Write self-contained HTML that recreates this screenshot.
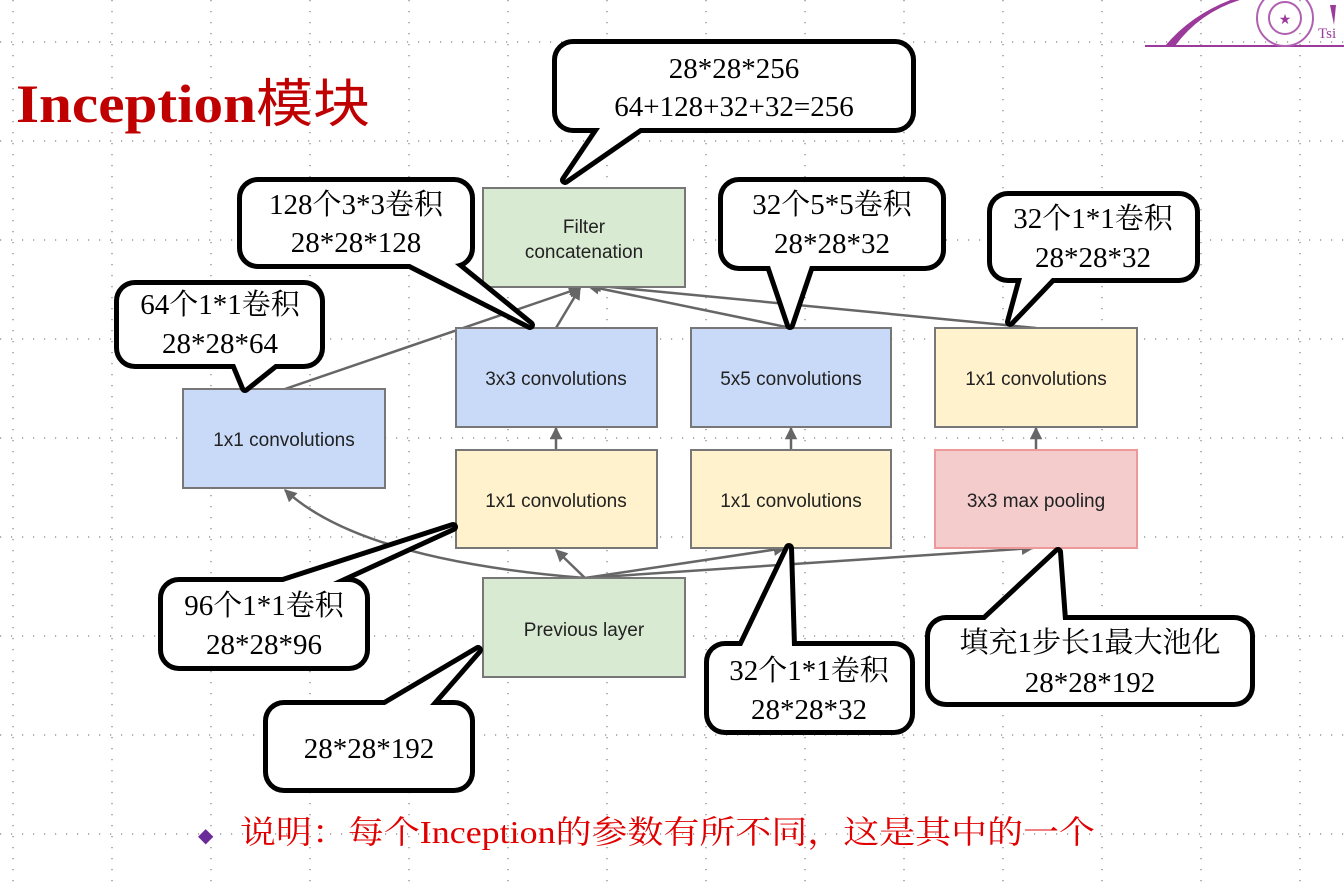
<!DOCTYPE html>
<html><head><meta charset="utf-8"><style>
html,body{margin:0;padding:0;background:#fff;}
svg{display:block;}
.box{stroke:#777;stroke-width:2;}
.bt{font-family:"Liberation Sans","DejaVu Sans",sans-serif;font-size:19px;fill:#222;text-anchor:middle;}
.ct{font-family:"Liberation Serif","Noto Serif CJK SC",serif;font-size:29px;fill:#000;text-anchor:middle;}
.ar{stroke:#666;stroke-width:2.5;fill:none;}
</style></head><body>
<svg width="1344" height="890" viewBox="0 0 1344 890" xmlns="http://www.w3.org/2000/svg">
<defs>
<marker id="ah" viewBox="0 0 10 10" refX="9" refY="5" markerWidth="5" markerHeight="5" orient="auto"><path d="M0,0 L10,5 L0,10 z" fill="#666"/></marker>
</defs>
<g stroke="#666" stroke-width="1" stroke-dasharray="1.2 9.8">
<line x1="13" y1="0" x2="13" y2="890"/><line x1="112" y1="0" x2="112" y2="890"/><line x1="211" y1="0" x2="211" y2="890"/><line x1="310" y1="0" x2="310" y2="890"/><line x1="409" y1="0" x2="409" y2="890"/><line x1="508" y1="0" x2="508" y2="890"/><line x1="607" y1="0" x2="607" y2="890"/><line x1="706" y1="0" x2="706" y2="890"/><line x1="805" y1="0" x2="805" y2="890"/><line x1="904" y1="0" x2="904" y2="890"/><line x1="1003" y1="0" x2="1003" y2="890"/><line x1="1102" y1="0" x2="1102" y2="890"/><line x1="1201" y1="0" x2="1201" y2="890"/><line x1="1300" y1="0" x2="1300" y2="890"/>
<line x1="0" y1="42" x2="1344" y2="42"/><line x1="0" y1="141" x2="1344" y2="141"/><line x1="0" y1="240" x2="1344" y2="240"/><line x1="0" y1="339" x2="1344" y2="339"/><line x1="0" y1="438" x2="1344" y2="438"/><line x1="0" y1="537" x2="1344" y2="537"/><line x1="0" y1="636" x2="1344" y2="636"/><line x1="0" y1="735" x2="1344" y2="735"/><line x1="0" y1="834" x2="1344" y2="834"/>
</g>
<!-- logo -->
<line x1="1145" y1="46" x2="1344" y2="46" stroke="#9b3a9b" stroke-width="2"/>
<path d="M1175,46 Q1205,5 1260,-5 L1245,-5 Q1195,10 1165,46 z" fill="#9b3a9b"/>
<circle cx="1285" cy="18" r="28" fill="none" stroke="#b060b0" stroke-width="2"/>
<circle cx="1285" cy="18" r="16" fill="none" stroke="#b060b0" stroke-width="2"/>
<text x="1285" y="24" font-size="14" fill="#9b3a9b" text-anchor="middle">★</text>
<text x="1318" y="38" font-family="Liberation Serif,serif" font-size="15" fill="#9b3a9b">Tsi</text>
<path d="M1330,5 L1336,5 L1334,25 Z" fill="#9b3a9b"/>
<text x="16" y="122" font-family="Liberation Serif,'Noto Serif CJK SC',serif" font-size="54" font-weight="bold" fill="#c00000" textLength="354" lengthAdjust="spacingAndGlyphs">Inception<tspan font-family="'Noto Sans CJK SC',sans-serif" font-weight="normal" font-size="52">模块</tspan></text>
<!-- arrows -->
<line class="ar" x1="285" y1="389" x2="580" y2="288" marker-end="url(#ah)"/>
<line class="ar" x1="556" y1="328" x2="580" y2="288" marker-end="url(#ah)"/>
<line class="ar" x1="791" y1="328" x2="588" y2="286" marker-end="url(#ah)"/>
<line class="ar" x1="1036" y1="328" x2="590" y2="285" marker-end="url(#ah)"/>
<line class="ar" x1="556" y1="450" x2="556" y2="428" marker-end="url(#ah)"/>
<line class="ar" x1="791" y1="450" x2="791" y2="428" marker-end="url(#ah)"/>
<line class="ar" x1="1036" y1="450" x2="1036" y2="428" marker-end="url(#ah)"/>
<path class="ar" d="M585,578 Q360,560 285,490" marker-end="url(#ah)"/>
<line class="ar" x1="585" y1="578" x2="556" y2="550" marker-end="url(#ah)"/>
<line class="ar" x1="585" y1="578" x2="785" y2="548" marker-end="url(#ah)"/>
<line class="ar" x1="585" y1="578" x2="1033" y2="548" marker-end="url(#ah)"/>
<!-- boxes -->
<rect class="box" x="483" y="188" width="202" height="99" fill="#d9ead3"/>
<text class="bt" x="584" y="233">Filter</text><text class="bt" x="584" y="258">concatenation</text>
<rect class="box" x="456" y="328" width="201" height="99" fill="#c9daf8"/><text class="bt" x="556" y="385">3x3 convolutions</text>
<rect class="box" x="691" y="328" width="200" height="99" fill="#c9daf8"/><text class="bt" x="791" y="385">5x5 convolutions</text>
<rect class="box" x="935" y="328" width="202" height="99" fill="#fff2cc"/><text class="bt" x="1036" y="385">1x1 convolutions</text>
<rect class="box" x="183" y="389" width="202" height="99" fill="#c9daf8"/><text class="bt" x="284" y="446">1x1 convolutions</text>
<rect class="box" x="456" y="450" width="201" height="98" fill="#fff2cc"/><text class="bt" x="556" y="507">1x1 convolutions</text>
<rect class="box" x="691" y="450" width="200" height="98" fill="#fff2cc"/><text class="bt" x="791" y="507">1x1 convolutions</text>
<rect x="935" y="450" width="202" height="98" fill="#f4cccc" stroke="#e99" stroke-width="2"/><text class="bt" x="1036" y="507">3x3 max pooling</text>
<rect class="box" x="483" y="578" width="202" height="99" fill="#d9ead3"/><text class="bt" x="584" y="636">Previous layer</text>
<!-- callouts: stroke layer -->
<g stroke="#000" stroke-width="10" stroke-linejoin="round" fill="#000">
<rect x="557" y="44" width="354" height="84" rx="16"/><polygon points="600,128 640,128 565,180"/>
<rect x="242" y="182" width="228" height="82" rx="16"/><polygon points="410,264 455,264 530,325"/>
<rect x="723" y="182" width="218" height="84" rx="16"/><polygon points="770,266 810,266 790,325"/>
<rect x="992" y="196" width="203" height="82" rx="16"/><polygon points="1022,278 1052,278 1010,322"/>
<rect x="119" y="285" width="201" height="79" rx="16"/><polygon points="235,364 275,364 245,388"/>
<rect x="163" y="582" width="202" height="84" rx="16"/><polygon points="283,582 333,582 453,527"/>
<rect x="709" y="646" width="201" height="84" rx="16"/><polygon points="742,646 792,646 789,548"/>
<rect x="930" y="620" width="320" height="82" rx="16"/><polygon points="985,620 1063,620 1058,552"/>
<rect x="268" y="705" width="202" height="83" rx="16"/><polygon points="385,705 430,705 478,650"/>
</g>
<g fill="#fff" stroke="none" stroke-linejoin="round">
<rect x="557" y="44" width="354" height="84" rx="16"/><polygon points="600,128 640,128 565,180"/>
<rect x="242" y="182" width="228" height="82" rx="16"/><polygon points="410,264 455,264 530,325"/>
<rect x="723" y="182" width="218" height="84" rx="16"/><polygon points="770,266 810,266 790,325"/>
<rect x="992" y="196" width="203" height="82" rx="16"/><polygon points="1022,278 1052,278 1010,322"/>
<rect x="119" y="285" width="201" height="79" rx="16"/><polygon points="235,364 275,364 245,388"/>
<rect x="163" y="582" width="202" height="84" rx="16"/><polygon points="283,582 333,582 453,527"/>
<rect x="709" y="646" width="201" height="84" rx="16"/><polygon points="742,646 792,646 789,548"/>
<rect x="930" y="620" width="320" height="82" rx="16"/><polygon points="985,620 1063,620 1058,552"/>
<rect x="268" y="705" width="202" height="83" rx="16"/><polygon points="385,705 430,705 478,650"/>
</g>
<text class="ct" x="734" y="78">28*28*256</text><text class="ct" x="734" y="116">64+128+32+32=256</text>
<text class="ct" x="356" y="214">128个3*3卷积</text><text class="ct" x="356" y="252">28*28*128</text>
<text class="ct" x="832" y="214">32个5*5卷积</text><text class="ct" x="832" y="253">28*28*32</text>
<text class="ct" x="1093" y="228">32个1*1卷积</text><text class="ct" x="1093" y="267">28*28*32</text>
<text class="ct" x="220" y="314">64个1*1卷积</text><text class="ct" x="220" y="353">28*28*64</text>
<text class="ct" x="264" y="615">96个1*1卷积</text><text class="ct" x="264" y="654">28*28*96</text>
<text class="ct" x="809" y="680">32个1*1卷积</text><text class="ct" x="809" y="719">28*28*32</text>
<text class="ct" x="1090" y="652">填充1步长1最大池化</text><text class="ct" x="1090" y="692">28*28*192</text>
<text class="ct" x="369" y="758">28*28*192</text>
<text x="198" y="842" font-size="20" fill="#6a2a9a">◆</text>
<text x="240" y="843" font-family="'Liberation Serif','Noto Serif CJK SC',serif" font-size="32" fill="#e00000" textLength="855" lengthAdjust="spacingAndGlyphs">说明：每个Inception的参数有所不同，这是其中的一个</text>
</svg>
</body></html>
